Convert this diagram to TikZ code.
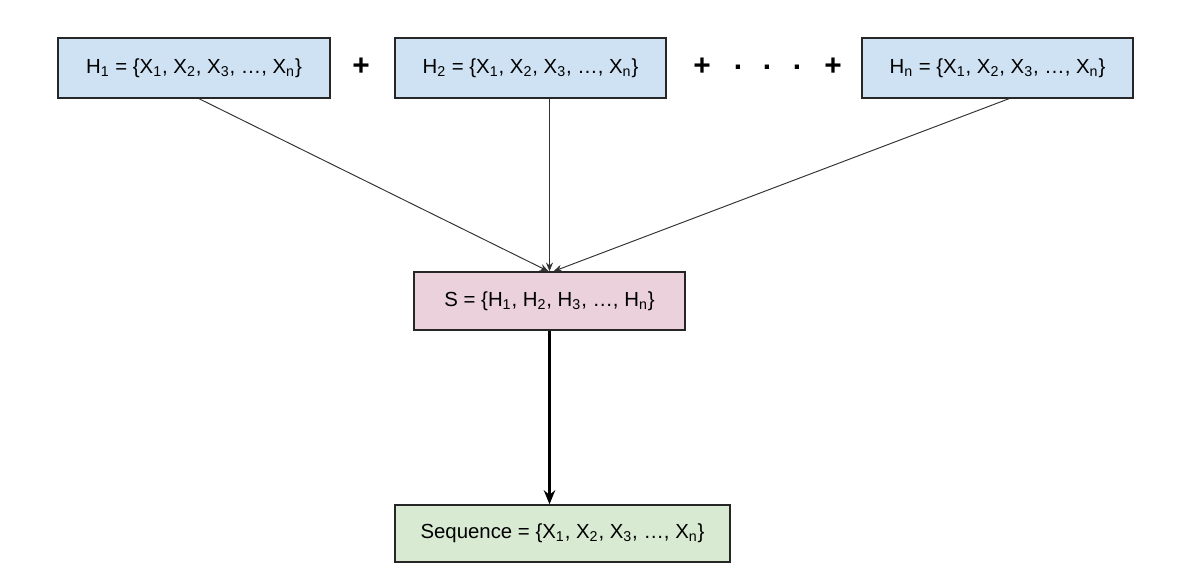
\documentclass[tikz,border=0pt]{standalone}
\usepackage{fontspec}
\setmainfont{Liberation Sans}
\usepackage{xcolor}
\usetikzlibrary{arrows.meta}

\definecolor{hblue}{HTML}{CFE2F3}
\definecolor{spink}{HTML}{EAD1DC}
\definecolor{qgreen}{HTML}{D9EAD3}

\tikzset{
	setbox/.style={draw=black!85, line width=0.8pt, inner sep=0pt, font=\fontsize{11.6}{13}\selectfont},
	plus/.style={font=\fontsize{17}{17}\selectfont\bfseries},
	thinarrow/.style={-{Stealth[length=5pt,width=4pt]}, black!80, line width=0.55pt},
	fatarrow/.style={-{Stealth[length=8pt,width=6.5pt]}, black, line width=1.3pt}
}

\newcommand{\sub}[1]{\textsubscript{#1}}

\begin{document}
\begin{tikzpicture}[x=0.02cm, y=-0.02cm]
				\useasboundingbox (0,0) rectangle (1200,579);
				\node[setbox, fill=hblue, minimum width=5.44cm, minimum height=1.2cm] (H1) at (194,68){H\sub{1} = \{X\sub{1}, X\sub{2}, X\sub{3}, \ldots, X\sub{n}\}};
				\node[setbox, fill=hblue, minimum width=5.42cm, minimum height=1.2cm] (H2) at (530.5,68){H\sub{2} = \{X\sub{1}, X\sub{2}, X\sub{3}, \ldots, X\sub{n}\}};
				\node[setbox, fill=hblue, minimum width=5.42cm, minimum height=1.2cm] (Hn) at (997.5,68){H\sub{n} = \{X\sub{1}, X\sub{2}, X\sub{3}, \ldots, X\sub{n}\}};
				\node[plus] (P1) at (361,67){+};
				\node[plus] (P2) at (702,67){+};
				\node[plus] (D1) at (738,67){.};
				\node[plus] (D2) at (767,67){.};
				\node[plus] (D3) at (797,67){.};
				\node[plus] (P3) at (833,67){+};
				\node[setbox, fill=spink, minimum width=5.42cm, minimum height=1.16cm] (S) at (549.5,301){S = \{H\sub{1}, H\sub{2}, H\sub{3}, \ldots, H\sub{n}\}};
				\node[setbox, fill=qgreen, minimum width=6.7cm, minimum height=1.14cm] (Q) at (562.5,533.5){Sequence = \{X\sub{1}, X\sub{2}, X\sub{3}, \ldots, X\sub{n}\}};
				% connectors
				\draw[thinarrow] ([xshift=0.1cm]H1.south) -- ([xshift=-0.02cm]S.north);
				\draw[thinarrow] (H2.south -| S.north) -- (S.north);
				\draw[thinarrow] ([xshift=0.23cm]Hn.south) -- ([xshift=0.08cm]S.north);
				\draw[fatarrow] (S.south) -- (S.south |- Q.north);
\end{tikzpicture}
\end{document}
